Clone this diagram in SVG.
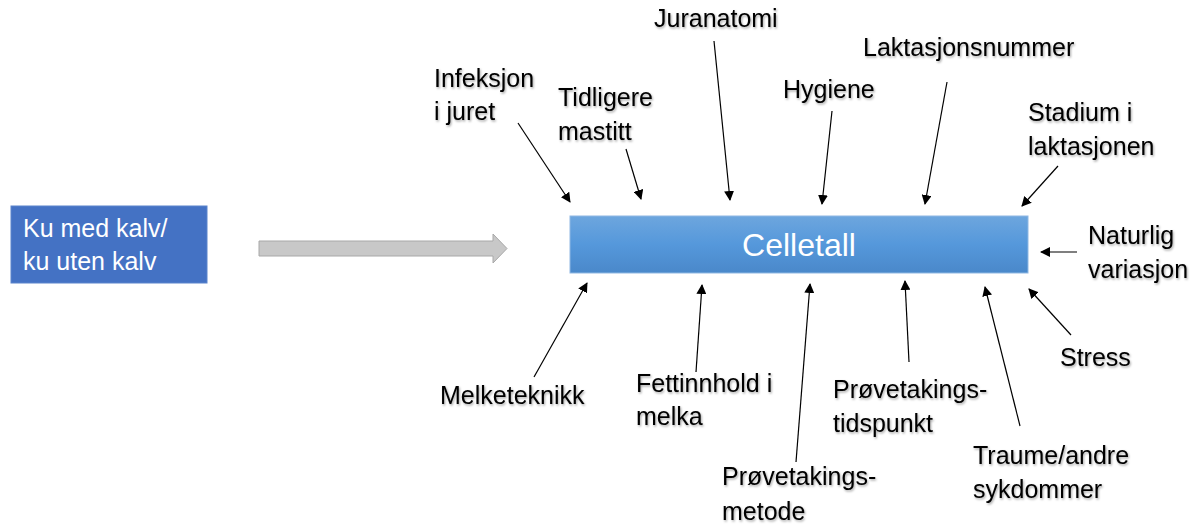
<svg xmlns="http://www.w3.org/2000/svg" width="1199" height="524" viewBox="0 0 1199 524">
<style>
.lbl{font-family:"Liberation Sans",Arial,sans-serif;font-size:25px;fill:#000;filter:url(#sh)}
.con line{stroke:#000;stroke-width:1.2;marker-end:url(#ah)}
.wt{font-family:"Liberation Sans",Arial,sans-serif;fill:#fff}
</style>
<defs>
<marker id="ah" viewBox="0 0 10 10" refX="9" refY="5" markerWidth="10" markerHeight="10" markerUnits="userSpaceOnUse" orient="auto">
<path d="M0,0 L10,5 L0,10 z" fill="#000"/>
</marker>
<linearGradient id="g" x1="0" y1="0" x2="0" y2="1">
<stop offset="0" stop-color="#6DA6DE"/>
<stop offset="0.5" stop-color="#5598DB"/>
<stop offset="1" stop-color="#4A88CA"/>
</linearGradient>
<filter id="sh" x="-10%" y="-30%" width="120%" height="160%">
<feDropShadow dx="1" dy="1.5" stdDeviation="1" flood-color="#000" flood-opacity="0.35"/>
</filter>
</defs>
<g id="node-ku">
<rect x="11" y="206" width="196" height="77" fill="#4472C4" stroke="#5B84CC" stroke-width="1"/>
<text class="wt" x="23" y="237" font-size="25">Ku med kalv/</text>
<text class="wt" x="23" y="270" font-size="25">ku uten kalv</text>
</g>
<g id="big-arrow">
<path d="M259,241 L493,241 L493,234 L507,248.5 L493,263 L493,256 L259,256 Z" fill="#C8C8C8" stroke="#A8A8A8" stroke-width="1"/>
</g>
<g id="node-celletall">
<rect x="570" y="216" width="458" height="57" fill="url(#g)" stroke="#8FB8E3" stroke-width="1"/>
<text class="wt" x="799" y="256" font-size="32" text-anchor="middle">Celletall</text>
</g>
<g id="labels">
<g id="n-infeksjon"><text class="lbl" x="434" y="87">Infeksjon</text><text class="lbl" x="434" y="120">i juret</text></g>
<g id="n-tidligere"><text class="lbl" x="558" y="106">Tidligere</text><text class="lbl" x="558" y="140">mastitt</text></g>
<g id="n-juranatomi"><text class="lbl" x="654" y="27">Juranatomi</text></g>
<g id="n-hygiene"><text class="lbl" x="783" y="98">Hygiene</text></g>
<g id="n-laktasjonsnummer"><text class="lbl" x="863" y="56">Laktasjonsnummer</text></g>
<g id="n-stadium"><text class="lbl" x="1028" y="121">Stadium i</text><text class="lbl" x="1028" y="155">laktasjonen</text></g>
<g id="n-naturlig"><text class="lbl" x="1088" y="244">Naturlig</text><text class="lbl" x="1088" y="278">variasjon</text></g>
<g id="n-stress"><text class="lbl" x="1060" y="366">Stress</text></g>
<g id="n-traume"><text class="lbl" x="973" y="464">Traume/andre</text><text class="lbl" x="973" y="498">sykdommer</text></g>
<g id="n-tidspunkt"><text class="lbl" x="833" y="398">Prøvetakings-</text><text class="lbl" x="833" y="432">tidspunkt</text></g>
<g id="n-metode"><text class="lbl" x="722" y="485">Prøvetakings-</text><text class="lbl" x="722" y="520">metode</text></g>
<g id="n-fett"><text class="lbl" x="636" y="392">Fettinnhold i</text><text class="lbl" x="636" y="425">melka</text></g>
<g id="n-melketeknikk"><text class="lbl" x="440" y="404">Melketeknikk</text></g>
</g>
<g id="connectors" class="con">
<line x1="518" y1="123" x2="570" y2="202"/>
<line x1="626" y1="149" x2="641" y2="199"/>
<line x1="714" y1="41" x2="730" y2="200"/>
<line x1="832" y1="111" x2="822" y2="204"/>
<line x1="947" y1="82" x2="925" y2="204"/>
<line x1="1058" y1="166" x2="1022" y2="206"/>
<line x1="1077" y1="252" x2="1041" y2="252"/>
<line x1="1071" y1="335" x2="1029" y2="289"/>
<line x1="1020" y1="426" x2="985" y2="287"/>
<line x1="909" y1="362" x2="905" y2="281"/>
<line x1="796" y1="462" x2="810" y2="284"/>
<line x1="696" y1="372" x2="702" y2="285"/>
<line x1="534" y1="377" x2="587" y2="283"/>
</g>
</svg>
